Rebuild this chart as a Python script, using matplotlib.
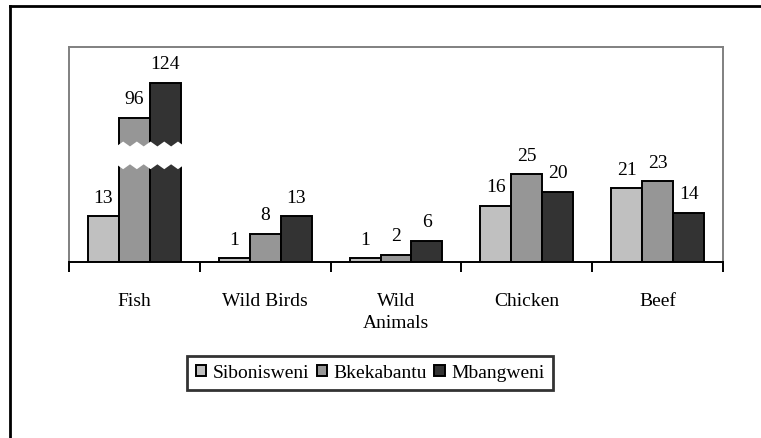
import matplotlib
matplotlib.use('Agg')
import matplotlib.pyplot as plt
from matplotlib.lines import Line2D
from matplotlib.patches import Patch
import numpy as np

plt.rcParams['font.family'] = ['Liberation Serif', 'DejaVu Serif']

# data
categories = ['Fish', 'Wild Birds', 'Wild\nAnimals', 'Chicken', 'Beef']
series = ['Sibonisweni', 'Bkekabantu', 'Mbangweni']
sibonisweni = [13, 1, 1, 16, 21]
bkekabantu = [96, 8, 2, 25, 23]
mbangweni = [124, 13, 6, 20, 14]
colors = ['#c0c0c0', '#969696', '#333333']

# broken axis: values above BREAK_AT are squeezed
BREAK_AT = 65
BREAK_Y = 30
SQUEEZE = 0.357

def shown(v):
    if v <= BREAK_AT:
        return v
    return BREAK_Y + (v - BREAK_AT) * SQUEEZE

fs = 14

fig = plt.figure(figsize=(7.61, 4.38), dpi=100)
ax = fig.add_axes([69/761, 1 - 262/438, (723 - 69)/761, (262 - 47)/438])

x = np.arange(len(categories)) + 0.5
w = 0.237
all_vals = [sibonisweni, bkekabantu, mbangweni]
for i, vals in enumerate(all_vals):
    pos = x + (i - 1) * w
    heights = [shown(v) for v in vals]
    ax.bar(pos, heights, w, color=colors[i], edgecolor='black', linewidth=1.4, zorder=2)
    for p, h, v in zip(pos, heights, vals):
        ax.annotate(str(v), (p, h), xytext=(0, 10), textcoords='offset points',
                    ha='center', va='baseline', fontsize=fs)

# white zigzag gap over the broken Fish bars
x0 = x[0] - 0.5 * w - 0.02
x1 = x[0] + 1.5 * w + 0.03
n = 10
xs = np.linspace(x0, x1, n + 1)
top = [33.0 if k % 2 == 0 else 34.4 for k in range(n + 1)]
bot = [27.9 if k % 2 == 0 else 26.5 for k in range(n + 1)]
poly_x = list(xs) + list(xs[::-1])
poly_y = top + bot[::-1]
ax.fill(poly_x, poly_y, color='white', zorder=3, lw=0)

ax.set_xlim(0, 5)
ax.set_ylim(0, 61.4)
ax.set_yticks([])
ax.set_xticks(range(6))
ax.set_xticklabels([])
ax.set_xticks(x, minor=True)
ax.set_xticklabels(categories, minor=True, fontsize=fs, linespacing=1.4)
ax.tick_params(axis='x', which='major', direction='out', length=7.5, width=1.4, color='black')
ax.tick_params(axis='x', which='minor', length=0, pad=22)

for s in ['left', 'top', 'right']:
    ax.spines[s].set_color('#808080')
    ax.spines[s].set_linewidth(1.4)
ax.spines['bottom'].set_color('black')
ax.spines['bottom'].set_linewidth(1.4)

handles = [Patch(facecolor=c, edgecolor='black', linewidth=1.4) for c in colors]
leg = fig.legend(handles, series, loc='center', bbox_to_anchor=(370/761, 1 - 373/438),
                 ncol=3, fontsize=fs, frameon=True, fancybox=False,
                 handlelength=0.55, handleheight=0.55, handletextpad=0.3,
                 columnspacing=0.4, borderpad=0.45, borderaxespad=0)
leg.get_frame().set_edgecolor('black')
leg.get_frame().set_linewidth(2)

# outer chart frame (only left and top visible)
fig.add_artist(Line2D([10/761, 10/761], [0, 1 - 6/438], color='black', lw=2))
fig.add_artist(Line2D([10/761, 1], [1 - 6/438, 1 - 6/438], color='black', lw=2))

plt.savefig('out.png', dpi=100)
